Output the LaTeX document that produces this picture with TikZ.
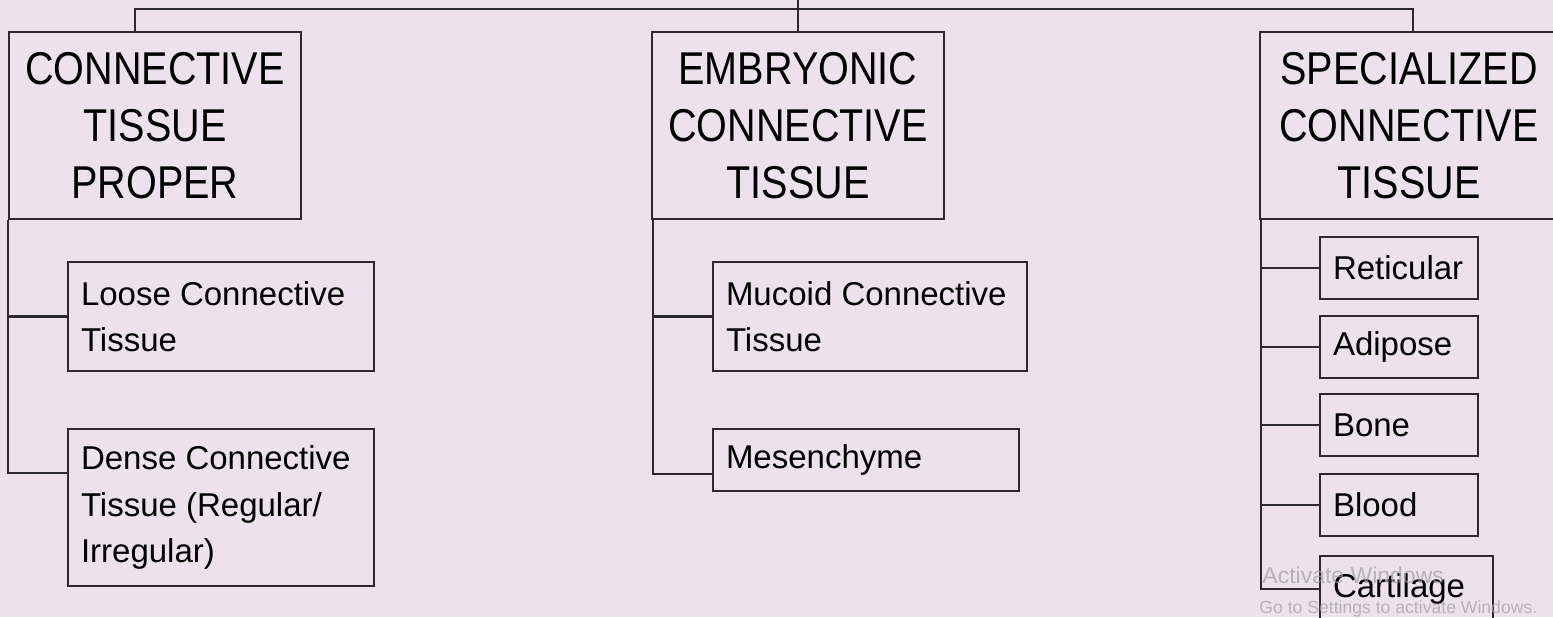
\documentclass[tikz,border=0pt]{standalone}
\usepackage{fontspec}
\setmainfont{Liberation Sans}
\newfontfamily\headfont[FakeStretch=0.86]{Liberation Sans}
\usetikzlibrary{calc}
\definecolor{BgLilac}{RGB}{236,225,237}
\definecolor{BoxLine}{RGB}{45,40,50}
\definecolor{WinGray}{RGB}{160,158,165}

\begin{document}
\begin{tikzpicture}[x=0.5pt,y=-0.5pt,
    head/.style={draw=BoxLine,line width=1pt,anchor=north west,minimum width=146pt,
      minimum height=93.5pt,inner sep=0pt,align=center,
      font=\headfont\fontsize{23}{28.5}\selectfont},
    leaf/.style={draw=BoxLine,line width=1pt,anchor=north west,inner xsep=6.5pt,
      inner ysep=0pt,align=flush left,font=\fontsize{16.5}{23.25}\selectfont},
    link/.style={draw=BoxLine,line width=1.2pt},
    winmark/.style={anchor=base west,inner sep=0pt,text=WinGray,opacity=0.7}]
  \fill[BgLilac] (0,0) rectangle (1553,617);
  \clip (0,0) rectangle (1553,617);
  % three main groups
  \node[head] (ctp) at (8,31) {CONNECTIVE\\TISSUE\\PROPER};
  \node[head] (ect) at (651,31) {EMBRYONIC\\CONNECTIVE\\TISSUE};
  \node[head,minimum width=149pt] (sct) at (1259,31) {SPECIALIZED\\CONNECTIVE\\TISSUE};
  \coordinate (root) at (ect.north |- 0,-2);
  \coordinate (hub) at (ect.north |- 0,9);
  \draw[link] (root) -- (ect.north);
  \draw[link] ($(ctp.north west)+(127,0)$) |- (hub) -| ($(sct.north west)+(154,0)$);
  % proper
  \node[leaf,text width=140pt,minimum height=54.5pt] (loose) at (67,261) {Loose Connective\\Tissue};
  \node[leaf,text width=140pt,minimum height=78.5pt] (dense) at (67,428) {Dense Connective\\Tissue (Regular/\\Irregular)};
  \draw[link] (ctp.south west) |- (loose.west);
  \draw[link] (ctp.south west) |- ($(dense.north west)+(0,45)$);
  % embryonic
  \node[leaf,text width=144pt,minimum height=54.5pt] (mucoid) at (712,261) {Mucoid Connective\\Tissue};
  \node[leaf,text width=140pt,minimum height=31pt] (mesen) at (712,428) {Mesenchyme};
  \draw[link] ([xshift=1pt]ect.south west) |- (mucoid.west);
  \draw[link] ([xshift=1pt]ect.south west) |- ($(mesen.north west)+(0,46)$);
  % specialized
  \node[leaf,text width=66pt,minimum height=31pt] (retic) at (1319,236) {Reticular};
  \node[leaf,text width=66pt,minimum height=31pt] (adipo) at (1319,315) {Adipose};
  \node[leaf,text width=66pt,minimum height=31pt] (bone) at (1319,393) {Bone};
  \node[leaf,text width=66pt,minimum height=31pt] (blood) at (1319,473) {Blood};
  \node[leaf,text width=73.5pt,minimum height=33pt] (cart) at (1319,555) {Cartilage};
  \foreach \n in {retic,adipo,bone,blood,cart}
    \draw[link] ([xshift=1pt]sct.south west) |- (\n.west);
  % screen watermark
  \node[winmark,font=\fontsize{11.5}{12}\selectfont] (wm1) at (1262,583) {Activate Windows};
  \node[winmark,font=\fontsize{8.8}{10}\selectfont] (wm2) at (1259,613) {Go to Settings to activate Windows.};
\end{tikzpicture}
\end{document}
